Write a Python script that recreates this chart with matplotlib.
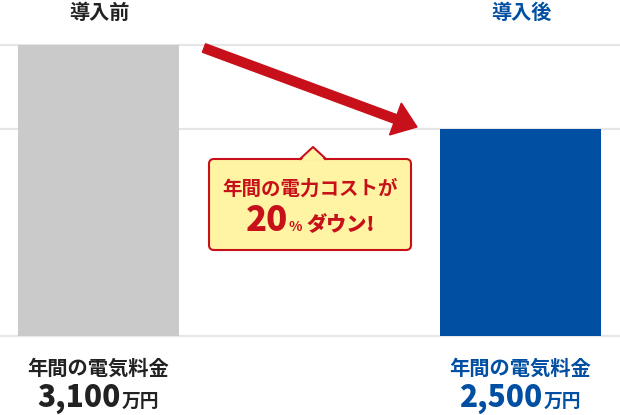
import matplotlib
matplotlib.use("Agg")
import matplotlib.pyplot as plt
from matplotlib.patches import FancyBboxPatch, Polygon, FancyArrow
from matplotlib.lines import Line2D
from matplotlib.transforms import Affine2D

plt.rcParams['font.family'] = ['Noto Sans CJK JP', 'DejaVu Sans']

# data
phases = ['導入前', '導入後']
costs = [3100, 2500]           # 万円 / 年
caption = '年間の電気料金'
unit = '万円'
y_floor = 1021                 # axis does not start at zero in the original

GREY = '#cacaca'
BLUE = '#004fa2'
RED = '#c8101a'
YELLOW = '#fff4a3'
bar_colors = [GREY, BLUE]
text_colors = ['#222222', BLUE]

W, H = 620, 415
fig = plt.figure(figsize=(W / 100, H / 100), dpi=100)
# pixel coords, origin top-left
pix = Affine2D().scale(1, -1).translate(0, H)

ax = fig.add_axes([0, (H - 336) / H, 1, (336 - 45) / H])
x = [0, 1]
ax.bar(x, costs, width=0.382, color=bar_colors, zorder=2)
ax.set_xlim(-0.2337, 1.237)
ax.set_ylim(y_floor, max(costs))
ax.set_yticks([y_floor] + sorted(costs))
ax.yaxis.grid(True, color='#e6e6e6', linewidth=1.6, zorder=0)
for gl in ax.get_ygridlines():
    gl.set_clip_on(False)
ax.tick_params(left=False, bottom=False, labelleft=False, labelbottom=False)
for s in ax.spines.values():
    s.set_visible(False)

fig.canvas.draw()
r = fig.canvas.get_renderer()

for i, (ph, v) in enumerate(zip(phases, costs)):
    cx = ax.transData.transform((x[i], 0))[0]
    col = text_colors[i]
    fig.text(cx + 1, 12, ph, transform=pix, ha='center', va='center',
             fontsize=14.5, fontweight='bold', color=col)
    fig.text(cx, 368, caption, transform=pix, ha='center', va='center',
             fontsize=14.6, fontweight='bold', color=col)
    num = fig.text(0, 407, f'{v:,}', transform=pix, ha='left', va='baseline',
                   fontsize=21.5, fontweight=900, color=col)
    un = fig.text(0, 407, unit, transform=pix, ha='left', va='baseline',
                  fontsize=13.5, fontweight='bold', color=col)
    wn = num.get_window_extent(r).width
    wu = un.get_window_extent(r).width
    left = cx - (wn + wu + 1) / 2
    num.set_x(left)
    un.set_x(left + wn + 1)

# arrow
fig.add_artist(FancyArrow(204, 48, 213, 79, width=9, head_width=34,
                          head_length=23, length_includes_head=True,
                          color=RED, transform=pix))

# callout
box = FancyBboxPatch((209, 159), 202, 91, boxstyle='round,pad=0,rounding_size=5',
                     facecolor=YELLOW, edgecolor=RED, linewidth=1.5, transform=pix)
fig.add_artist(box)
fig.add_artist(Polygon([(301, 160.5), (313, 148), (325, 160.5)], closed=True,
                       facecolor=YELLOW, edgecolor='none', transform=pix))
fig.add_artist(Line2D([300, 313, 326], [159, 147, 159], color=RED,
                      linewidth=1.5, transform=pix))

fig.text(310, 189, '年間の電力コストが', transform=pix, ha='center', va='center',
         fontsize=14, fontweight='bold', color=RED)
t20 = fig.text(0, 231, '20', transform=pix, ha='left', va='baseline',
               fontsize=25, fontweight=900, color=RED)
tpc = fig.text(0, 231, '%', transform=pix, ha='left', va='baseline',
               fontsize=10, fontweight='bold', color=RED)
tdn = fig.text(0, 231, 'ダウン!', transform=pix, ha='left', va='baseline',
               fontsize=14.5, fontweight=900, color=RED)
w1 = t20.get_window_extent(r).width
w2 = tpc.get_window_extent(r).width
w3 = tdn.get_window_extent(r).width
start = 310 - (w1 + w2 + w3 + 5) / 2
t20.set_x(start)
tpc.set_x(start + w1 + 1)
tdn.set_x(start + w1 + w2 + 5)

fig.savefig('out.png', dpi=100)
